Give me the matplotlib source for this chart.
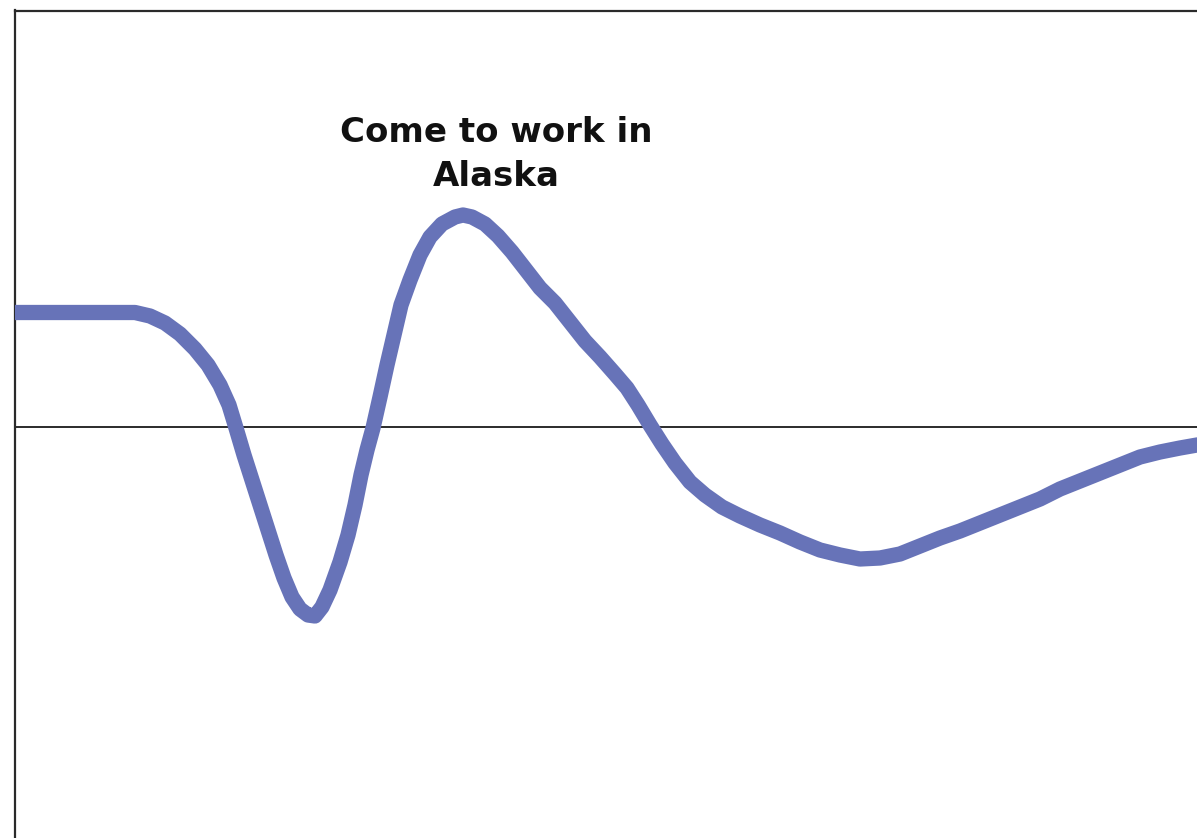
import matplotlib
matplotlib.use("Agg")
import matplotlib.pyplot as plt

# Data (arbitrary units; zero line at y = 0)
time = [-0.01, 1.20, 1.35, 1.50, 1.65, 1.80, 1.93, 2.05, 2.14, 2.21, 2.29,
        2.37, 2.45, 2.53, 2.61, 2.69, 2.77, 2.85, 2.93, 3.00, 3.07, 3.15,
        3.25, 3.33, 3.40, 3.46, 3.52, 3.58, 3.65, 3.72, 3.79, 3.86, 3.95,
        4.05, 4.15, 4.27, 4.40, 4.48, 4.57, 4.70, 4.83, 4.97, 5.11, 5.25,
        5.40, 5.55, 5.70, 5.85, 6.00, 6.12, 6.23, 6.35, 6.47, 6.60, 6.75,
        6.90, 7.07, 7.25, 7.45, 7.65, 7.85, 8.05, 8.25, 8.45, 8.65, 8.85,
        9.05, 9.25, 9.45, 9.65, 9.85, 10.05, 10.25, 10.45, 10.65, 10.85,
        11.05, 11.25, 11.45, 11.65, 11.82, 12.00]
level = [1.145, 1.145, 1.11, 1.04, 0.93, 0.78, 0.62, 0.42, 0.22, -0.01,
         -0.28, -0.53, -0.78, -1.03, -1.28, -1.51, -1.70, -1.82, -1.88,
         -1.89, -1.80, -1.63, -1.35, -1.08, -0.78, -0.48, -0.23, -0.01,
         0.30, 0.62, 0.92, 1.22, 1.47, 1.72, 1.90, 2.03, 2.10, 2.12, 2.10,
         2.03, 1.91, 1.75, 1.57, 1.39, 1.24, 1.05, 0.86, 0.70, 0.53, 0.39,
         0.22, 0.02, -0.17, -0.36, -0.55, -0.68, -0.80, -0.89, -0.98, -1.06,
         -1.15, -1.23, -1.28, -1.32, -1.31, -1.27, -1.19, -1.11, -1.04,
         -0.96, -0.88, -0.80, -0.72, -0.62, -0.54, -0.46, -0.38, -0.30,
         -0.25, -0.21, -0.18, -0.16]
label_text = "Come to work in\nAlaska"
label_x = 4.815
label_y = 3.105

W, H = 1197, 838
fig = plt.figure(figsize=(W / 100, H / 100), dpi=100)
left = 14.5 / W
top = 1 - 10.5 / H
ax = fig.add_axes([left, -0.05, 1.05 - left, top + 0.05])
ax.set_xlim(-0.005, 12.4185)
ax.set_ylim(-4.529, 4.165)

ax.plot(time, level, color="#6773b8", lw=11, solid_joinstyle="round",
        solid_capstyle="butt", zorder=3)
ax.axhline(0, color="#1a1a1a", lw=1.3, zorder=2)

ax.text(label_x, label_y, label_text, ha="center", va="top",
        fontsize=24.5, fontweight="bold", family="DejaVu Sans",
        linespacing=1.4, color="#111111", multialignment="center")

for s in ["right", "bottom"]:
    ax.spines[s].set_visible(False)
for s in ["left", "top"]:
    ax.spines[s].set_color("#2a2a2a")
    ax.spines[s].set_linewidth(1.6)
    ax.spines[s].set_capstyle("projecting")
ax.set_xticks([])
ax.set_yticks([])

fig.savefig("out.png", dpi=100, facecolor="white")
